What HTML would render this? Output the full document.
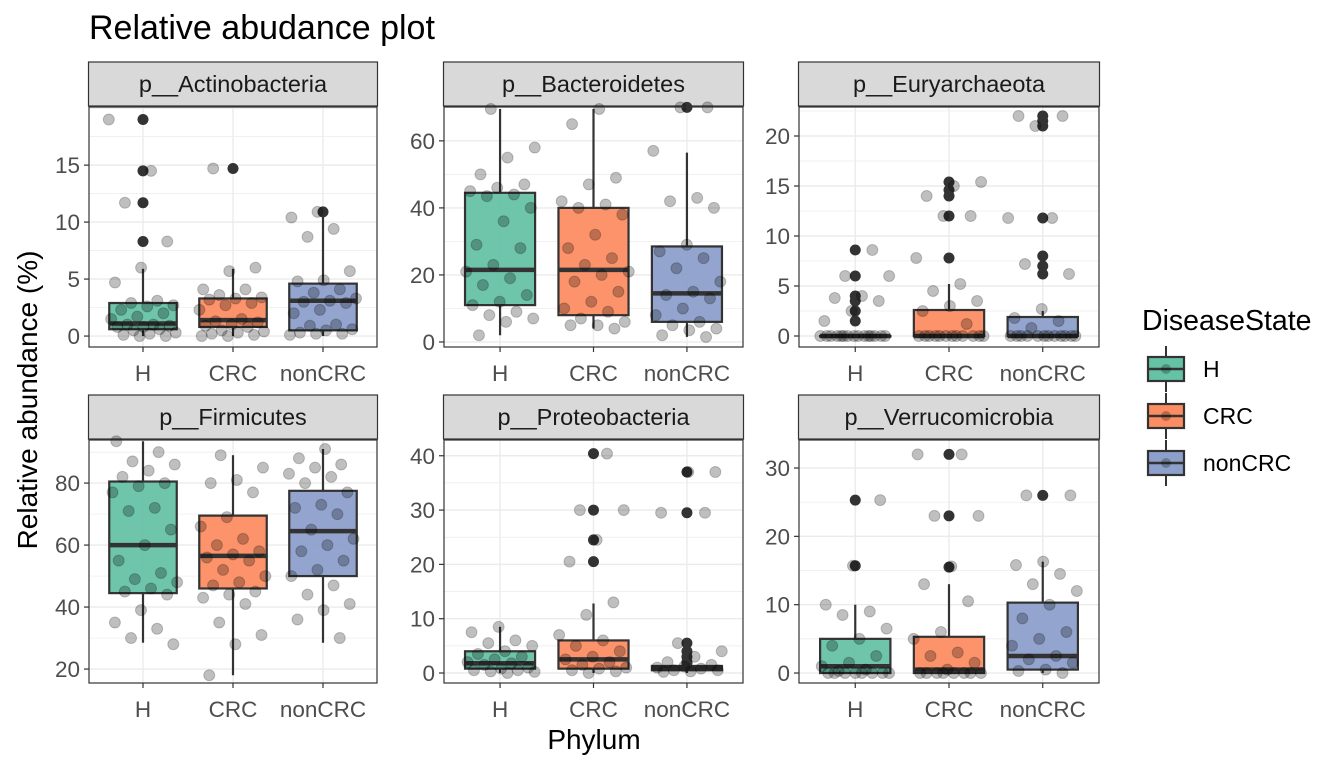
<!DOCTYPE html>
<html><head><meta charset="utf-8"><style>
body{margin:0;background:#fff}
svg{display:block;font-family:"Liberation Sans",Arial,sans-serif}
</style></head><body>
<svg id="chart" width="1344" height="768" viewBox="0 0 1344 768"></svg>
<script>
// ---------- data ----------
const groups = ["H","CRC","nonCRC"];
const panelNames = ["p__Actinobacteria","p__Bacteroidetes","p__Euryarchaeota","p__Firmicutes","p__Proteobacteria","p__Verrucomicrobia"];
const yTicks = [[0,5,10,15],[0,20,40,60],[0,5,10,15,20],[20,40,60,80],[0,10,20,30,40],[0,10,20,30]];
const yDomains = [[-0.96,20.1],[-1.5,70.1],[-1.1,22.9],[15.5,93.9],[-1.84,42.9],[-1.46,34.1]];
// box stats per panel per group: [lower whisker, q1, median, q3, upper whisker]
const boxStats = [
 [[0,0.6,1.1,2.9,5.9],[0,0.8,1.4,3.3,5.9],[0,0.5,3.1,4.6,10.6]],
 [[2,11,21.5,44.5,69.5],[4,8,21.5,40,69.5],[1.5,6,14.5,28.5,56.5]],
 [[0,0,0,0,0],[0,0,0,2.6,5.2],[0,0,0,1.9,2.5]],
 [[28.5,44.5,60,80.5,93.5],[18,46,56.5,69.5,89],[28.5,50,64.5,77.5,91]],
 [[0,0.8,1.8,4,8.5],[0,0.8,2.5,6,12.8],[0,0.5,1,1.3,1.5]],
 [[0,0,1,5,10],[0,0,0.5,5.3,13],[0,0.5,2.5,10.3,16.3]]
];
const outliers = [
 [[19,14.5,11.7,8.3],[14.7],[10.9]],
 [[],[],[70]],
 [[8.6,6,4,3.5,2.5,1.5],[15.4,14.6,14,12,7.8],[22,21.5,21,11.8,8,7,6.2]],
 [[],[],[]],
 [[],[40.4,30,24.5,20.5],[37,29.5,5.5,4,3,2,1.8]],
 [[25.3,15.7],[32,23,15.5],[26]]
];
const points = [
 [[19,14.5,11.7,8.3,6,4.7,3.1,2.9,2.7,2.6,2.3,2,1.7,1.5,1,1,0.9,0.8,0.8,0.6,0.5,0.3,0.2,0.1,0,0],
  [14.7,6,5.7,4.1,4.1,3.6,3.4,3.3,3.2,2.9,2.7,2.3,1.5,1.3,1.2,1,0.9,0.8,0.5,0.4,0.3,0.2,0.1,0,0],
  [10.9,10.4,9.4,8.7,5.7,4.9,4.8,4.1,3.8,3.3,3.1,3,2.9,2.3,2,1,0.9,0.6,0.5,0.3,0.2,0.2,0.1]],
 [[69.5,58,55,50,47,46,45,44,43.5,40,36,29,28,23,21,19,17,14,12,11,9,8,7,6,2],
  [69.5,65,49,47,42,41,40,38,32,28,25,23,21,20,18,15,12,10,9,7,6,5,5,4],
  [70,70,57,43,42,40,29,27,25,22,18,15,14,13,10,8,6,5,4,3.5,2,1.5]],
 [[8.6,6,6,4,3.8,3.5,2.5,1.5,0,0,0,0,0,0,0,0,0,0,0,0,0,0,0],
  [15.4,15,14,12,12,7.8,5.2,4.5,3.5,3,2.5,1.2,0,0,0,0,0,0,0,0,0,0,0,0],
  [22,22,21,11.8,11.8,7.2,6.2,2.7,1.8,1.5,0.8,0,0,0,0,0,0,0,0,0,0,0,0]],
 [[93.5,90,87,86,84,82,80,79,77,72,71,65,60,55,51,49,48,46,45,44,39,35,33,30,28],
  [89,85,81,80,77,69,66,62,60,58,57,56,55,52,50,48,47,45,44,43,41,35,31,28,18],
  [91,88,86,85,83,82,80,77,73,72,70,65,62,60,58,55,52,50,47,44,41,39,36,30]],
 [[8.5,7.5,6,5.5,5,4,3.5,3,2.5,2,1.8,1.5,1,0.8,0.5,0.5,0.3,0.2,0],
  [40.4,30,30,24.5,20.5,13,10.7,7,6,5,4,3,2.5,2,1.5,1,0.8,0.5,0.3,0],
  [37,37,29.5,29.5,5.5,4,3,2,1.5,1.2,1,0.8,0.5,0.5,0.3,0.2]],
 [[25.3,15.7,10,9,8.5,6.5,5,4,2.5,1.5,1,0.5,0.3,0,0,0,0,0,0,0,0],
  [32,32,23,23,15.6,13,10.5,6,5,3,2.5,1.5,0.5,0,0,0,0,0,0,0,0],
  [26,26,16.3,15.8,14.5,13,12,10,8,6,5,4,2.5,2,1.5,0.5,0.3,0]]
];
const fills = ["#66c2a5","#fc8d62","#8da0cb"];

// ---------- layout ----------
const NS="http://www.w3.org/2000/svg";
const svg=document.getElementById("chart");
function mk(tag,attrs,parent){const e=document.createElementNS(NS,tag);for(const k in attrs)e.setAttribute(k,attrs[k]);(parent||svg).appendChild(e);return e;}
const colX=[[89,377],[444,743],[799,1099]];
const rowY=[{strip:[62,106],plot:[107,347]},{strip:[395,439],plot:[440,683]}];

function txt(s,attrs,parent){const t=mk("text",attrs,parent);t.textContent=s;return t;}

const title=txt("Relative abudance plot",{x:89,y:39,"font-size":34,fill:"#000"});



panelNames.forEach((name,p)=>{
  const c=p%3,r=Math.floor(p/3);
  const [x0,x1]=colX[c];const [py0,py1]=rowY[r].plot;const [sy0,sy1]=rowY[r].strip;
  const g=mk("g",{});
  
  
  const [d0,d1]=yDomains[p];
  const yS=v=>py1-(v-d0)/(d1-d0)*(py1-py0);
  const xS=i=>x0+(i+1-0.4)/3.2*(x1-x0);
  const bw=0.75/3.2*(x1-x0);
  // strip
  const st=mk("rect",{x:x0-0.5,y:sy0,width:x1-x0+1,height:sy1-sy0,fill:"#d9d9d9",stroke:"#333","stroke-width":1.2},g);
  
  
  txt(name,{x:(x0+x1)/2,y:(sy0+sy1)/2+8,"text-anchor":"middle","font-size":23.5,fill:"#1a1a1a"},g);
  // grid
  const tk=yTicks[p];const step=tk[1]-tk[0];
  for(let v=tk[0]-step/2;v<=d1;v+=step/2){
    if(v<d0)continue;
    const major=Math.abs((v-tk[0])/step-Math.round((v-tk[0])/step))<1e-6;
    mk("line",{x1:x0,x2:x1,y1:yS(v),y2:yS(v),stroke:"#ebebeb","stroke-width":major?1.4:0.7},g);
  }
  groups.forEach((gr,i)=>mk("line",{x1:xS(i),x2:xS(i),y1:py0,y2:py1,stroke:"#ebebeb","stroke-width":1.4},g));
  // y ticks
  tk.forEach(v=>{
    mk("line",{x1:x0-5,x2:x0,y1:yS(v),y2:yS(v),stroke:"#333","stroke-width":1.2},g);
    const t=txt(String(v),{x:x0-9,y:yS(v)+8,"text-anchor":"end","font-size":22.5,fill:"#4d4d4d"},g);
    
    
  });
  // x ticks
  groups.forEach((gr,i)=>{
    mk("line",{x1:xS(i),x2:xS(i),y1:py1,y2:py1+5,stroke:"#333","stroke-width":1.2},g);
    const t=txt(gr,{x:xS(i),y:py1+34,"text-anchor":"middle","font-size":22.5,fill:"#4d4d4d"},g);
    
    
  });
  // boxes
  groups.forEach((gr,i)=>{
    const [lo,q1,md,q3,hi]=boxStats[p][i];const cx=xS(i);
    const bg=mk("g",{},g);
    
    
    mk("line",{x1:cx,x2:cx,y1:yS(hi),y2:yS(q3),stroke:"#333","stroke-width":2.2},bg);
    mk("line",{x1:cx,x2:cx,y1:yS(q1),y2:yS(lo),stroke:"#333","stroke-width":2.2},bg);
    mk("rect",{x:cx-bw/2,y:yS(q3),width:bw,height:Math.max(yS(q1)-yS(q3),0.5),fill:fills[i],"fill-opacity":0.95,stroke:"#333","stroke-width":2.2},bg);
    mk("line",{x1:cx-bw/2,x2:cx+bw/2,y1:yS(md),y2:yS(md),stroke:"#333","stroke-width":4.5},bg);
    outliers[p][i].forEach(v=>{
      const o=mk("circle",{cx:cx,cy:yS(v),r:5.5,fill:"#333"},bg);
      
      
    });
    points[p][i].forEach((v,k)=>{
      const f=((k*0.6180339+p*0.37+i*0.21)%1)*2-1;
      const pt=mk("circle",{cx:cx+f*0.38/3.2*(x1-x0),cy:yS(v),r:5.5,fill:"#000","fill-opacity":0.25,stroke:"#000","stroke-opacity":0.2},bg);
      
      
    });
  });
  mk("rect",{x:x0,y:py0,width:x1-x0,height:py1-py0,fill:"none",stroke:"#333","stroke-width":1.2},g);
});

const yt=txt("Relative abundance (%)",{x:0,y:0,transform:"translate(37,400) rotate(-90)","text-anchor":"middle","font-size":28,fill:"#000"});


const xt=txt("Phylum",{x:594,y:749,"text-anchor":"middle","font-size":28,fill:"#000"});



// legend
const lg=mk("g",{});


txt("DiseaseState",{x:1142,y:330,"font-size":28.5,fill:"#000"},lg);
groups.forEach((gr,i)=>{
  const cy=369+i*47;
  const e=mk("g",{},lg);
  
  
  mk("line",{x1:1166,x2:1166,y1:cy-23,y2:cy+23,stroke:"#333","stroke-width":2},e);
  mk("rect",{x:1148,y:cy-12,width:36,height:24,fill:fills[i],stroke:"#333","stroke-width":2.2},e);
  mk("line",{x1:1148,x2:1184,y1:cy,y2:cy,stroke:"#333","stroke-width":2.5},e);
  mk("circle",{cx:1166,cy:cy,r:5,fill:"#000","fill-opacity":0.25},e);
  txt(gr,{x:1203,y:cy+8,"font-size":23,fill:"#000"},e);
});
</script>
</body></html>
